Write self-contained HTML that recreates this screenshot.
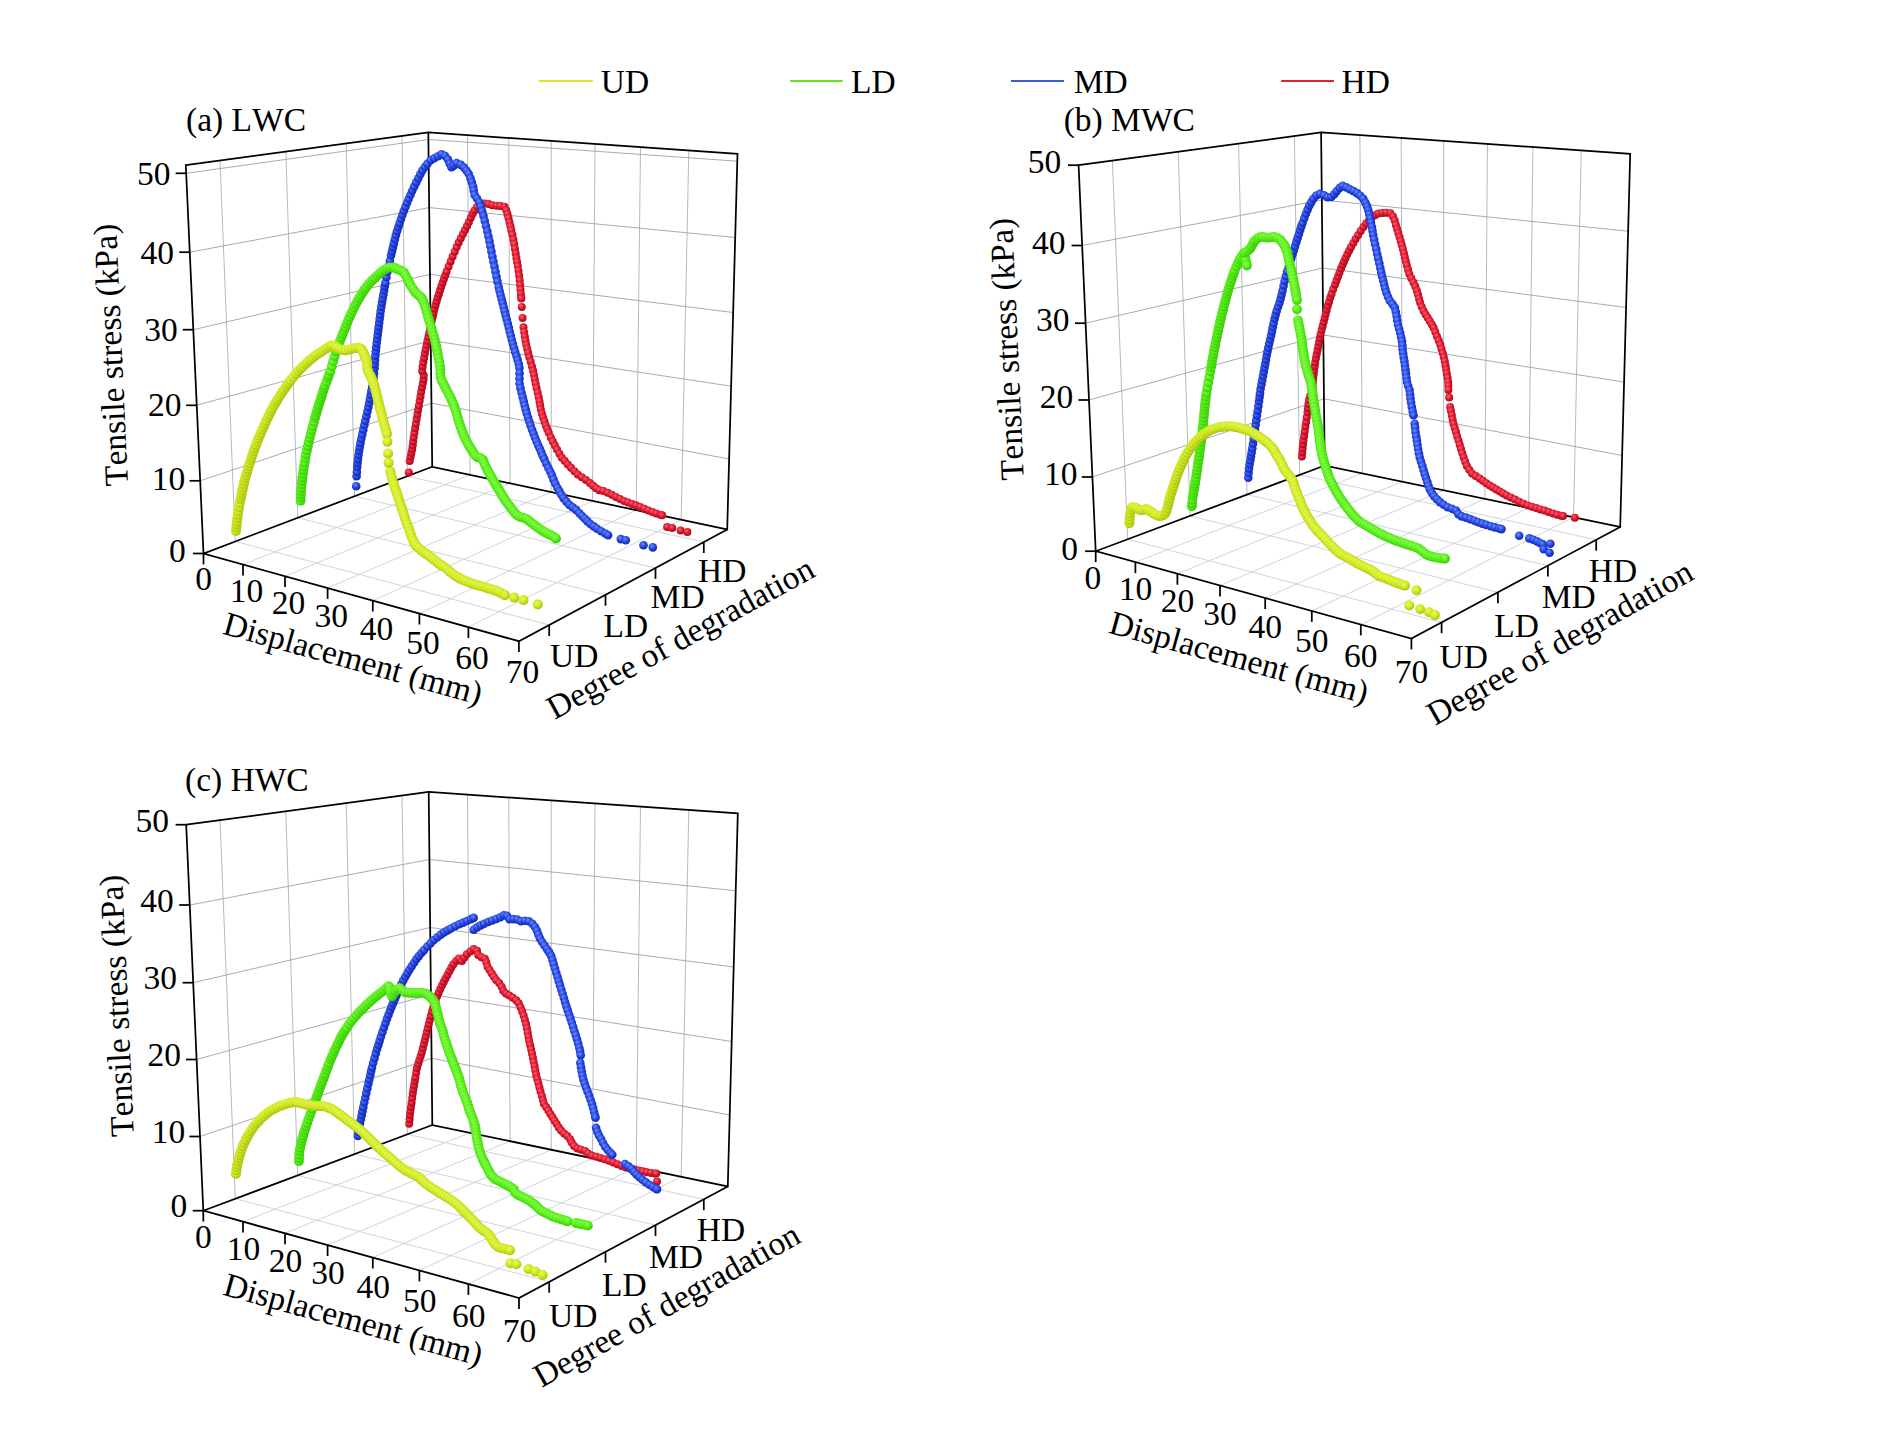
<!DOCTYPE html>
<html lang="en"><head><meta charset="utf-8"><title>Tensile stress vs displacement</title>
<style>html,body{margin:0;padding:0;background:#fff}svg{display:block}text{font-family:"Liberation Serif",serif;font-size:33.5px;fill:#000;font-kerning:none}.k{stroke:#000;stroke-width:1.75;fill:none;stroke-linecap:square;stroke-linejoin:miter}.t{stroke:#000;stroke-width:1.75;fill:none}.g{stroke:#92969b;stroke-width:0.8;fill:none}.gv{stroke:#a2a7ad;stroke-width:0.8;fill:none}.gf{stroke:#c9cfdb;stroke-width:0.9;fill:none}
.cy{fill:none;stroke:#a9c212;stroke-width:7.6;stroke-linecap:round;stroke-linejoin:round;marker-start:url(#my);marker-mid:url(#my);marker-end:url(#my)}
.cg{fill:none;stroke:#3cc80a;stroke-width:7.4;stroke-linecap:round;stroke-linejoin:round;marker-start:url(#mg);marker-mid:url(#mg);marker-end:url(#mg)}
.cb{fill:none;stroke:#1428a8;stroke-width:6.2;stroke-linecap:round;stroke-linejoin:round;marker-start:url(#mb);marker-mid:url(#mb);marker-end:url(#mb)}
.cr{fill:none;stroke:#a00c1e;stroke-width:5.6;stroke-linecap:round;stroke-linejoin:round;marker-start:url(#mr);marker-mid:url(#mr);marker-end:url(#mr)}
</style></head><body>
<svg width="1898" height="1429" viewBox="0 0 1898 1429">
<rect width="1898" height="1429" fill="#fff"/>
<defs>
<radialGradient id="sy" cx="0.4" cy="0.35" r="0.65"><stop offset="0" stop-color="#eafa5c"/><stop offset="0.55" stop-color="#d0e822"/><stop offset="1" stop-color="#a9c212"/></radialGradient>
<marker id="my" markerUnits="userSpaceOnUse" markerWidth="10" markerHeight="10" refX="5" refY="5" overflow="visible"><circle cx="5" cy="5" r="5" fill="url(#sy)"/></marker>
<radialGradient id="sg" cx="0.4" cy="0.35" r="0.65"><stop offset="0" stop-color="#98ff5c"/><stop offset="0.55" stop-color="#55ee16"/><stop offset="1" stop-color="#3cc80a"/></radialGradient>
<marker id="mg" markerUnits="userSpaceOnUse" markerWidth="9.8" markerHeight="9.8" refX="4.9" refY="4.9" overflow="visible"><circle cx="4.9" cy="4.9" r="4.9" fill="url(#sg)"/></marker>
<radialGradient id="sb" cx="0.4" cy="0.35" r="0.65"><stop offset="0" stop-color="#6d8cff"/><stop offset="0.55" stop-color="#2244e2"/><stop offset="1" stop-color="#1428a8"/></radialGradient>
<marker id="mb" markerUnits="userSpaceOnUse" markerWidth="8.6" markerHeight="8.6" refX="4.3" refY="4.3" overflow="visible"><circle cx="4.3" cy="4.3" r="4.3" fill="url(#sb)"/></marker>
<radialGradient id="sr" cx="0.4" cy="0.35" r="0.65"><stop offset="0" stop-color="#ff6070"/><stop offset="0.55" stop-color="#dc162c"/><stop offset="1" stop-color="#a00c1e"/></radialGradient>
<marker id="mr" markerUnits="userSpaceOnUse" markerWidth="8" markerHeight="8" refX="4" refY="4" overflow="visible"><circle cx="4" cy="4" r="4" fill="url(#sr)"/></marker>
</defs>
<line x1="538.8" y1="81" x2="592.8" y2="81" stroke="#dfe52e" stroke-width="2"/>
<text x="600.8" y="93.2">UD</text>
<line x1="790.2" y1="81" x2="842.6" y2="81" stroke="#62e21c" stroke-width="2"/>
<text x="851" y="93.2">LD</text>
<line x1="1011" y1="81" x2="1064" y2="81" stroke="#3a5bd6" stroke-width="2"/>
<text x="1073.8" y="93.2">MD</text>
<line x1="1281.2" y1="81" x2="1334" y2="81" stroke="#e0242e" stroke-width="2"/>
<text x="1341.5" y="93.2">HD</text>
<g transform="translate(0,0)">
<line class="g" x1="200.2" y1="480.8" x2="431.5" y2="403.2"/>
<line class="g" x1="431.5" y1="403.2" x2="729.1" y2="459"/>
<line class="g" x1="196.7" y1="405.3" x2="430.7" y2="340.5"/>
<line class="g" x1="430.7" y1="340.5" x2="731.1" y2="386.2"/>
<line class="g" x1="193.3" y1="329.7" x2="430" y2="274.3"/>
<line class="g" x1="430" y1="274.3" x2="733.1" y2="312.5"/>
<line class="g" x1="189.8" y1="252.2" x2="429.2" y2="207.6"/>
<line class="g" x1="429.2" y1="207.6" x2="735.2" y2="237.5"/>
<line class="g" x1="186.2" y1="173.3" x2="428.4" y2="139.5"/>
<line class="g" x1="428.4" y1="139.5" x2="737.3" y2="161.2"/>
<line class="gv" x1="220" y1="160.5" x2="235.3" y2="541.4"/>
<line class="gf" x1="235.3" y1="541.4" x2="549.2" y2="625"/>
<line class="gv" x1="285.8" y1="151.7" x2="297.7" y2="517.8"/>
<line class="gf" x1="297.7" y1="517.8" x2="605.5" y2="594.8"/>
<line class="gv" x1="346.2" y1="143.5" x2="354.6" y2="496.2"/>
<line class="gf" x1="354.6" y1="496.2" x2="655.5" y2="568"/>
<line class="gv" x1="402" y1="136" x2="407.3" y2="476.2"/>
<line class="gf" x1="407.3" y1="476.2" x2="703.8" y2="542.1"/>
<line class="gv" x1="467.5" y1="135.2" x2="470" y2="474.8"/>
<line class="gf" x1="470" y1="474.8" x2="243" y2="564.5"/>
<line class="gv" x1="508.8" y1="138" x2="510" y2="483.3"/>
<line class="gf" x1="510" y1="483.3" x2="285" y2="576.2"/>
<line class="gv" x1="551.2" y1="140.9" x2="551.2" y2="492.1"/>
<line class="gf" x1="551.2" y1="492.1" x2="327.6" y2="588"/>
<line class="gv" x1="595" y1="144" x2="592.5" y2="500.9"/>
<line class="gf" x1="592.5" y1="500.9" x2="372.8" y2="600.6"/>
<line class="gv" x1="640.5" y1="147.1" x2="636.2" y2="510.2"/>
<line class="gf" x1="636.2" y1="510.2" x2="419.4" y2="613.6"/>
<line class="gv" x1="688.8" y1="150.4" x2="681.2" y2="519.7"/>
<line class="gf" x1="681.2" y1="519.7" x2="468.4" y2="627.2"/>
<path class="k" d="M185.8 165.1L428.3 132.5L737.5 153.8L727.2 529.5L518.9 641.2L203.5 553.5L203.5 553.5L185.8 165.1ZM428.3 132.5L432.2 466.8M203.5 553.5L432.2 466.8M432.2 466.8L727.2 529.5"/>
<line class="t" x1="192.9" y1="553.5" x2="203.5" y2="553.5"/>
<text x="185.7" y="562.3" text-anchor="end">0</text>
<line class="t" x1="189.6" y1="480.8" x2="200.2" y2="480.8"/>
<text x="185.2" y="490" text-anchor="end">10</text>
<line class="t" x1="186.1" y1="405.3" x2="196.7" y2="405.3"/>
<text x="181.5" y="416" text-anchor="end">20</text>
<line class="t" x1="182.7" y1="329.7" x2="193.3" y2="329.7"/>
<text x="177.7" y="341.1" text-anchor="end">30</text>
<line class="t" x1="179.2" y1="252.2" x2="189.8" y2="252.2"/>
<text x="173.9" y="263.8" text-anchor="end">40</text>
<line class="t" x1="175.6" y1="173.3" x2="186.2" y2="173.3"/>
<text x="170.5" y="185.1" text-anchor="end">50</text>
<line class="t" x1="203.5" y1="553.5" x2="203.5" y2="564.4"/>
<text x="203.5" y="589.7" text-anchor="middle">0</text>
<line class="t" x1="243" y1="564.5" x2="243" y2="575.4"/>
<text x="246.6" y="601.5" text-anchor="middle">10</text>
<line class="t" x1="285" y1="576.2" x2="285" y2="587.1"/>
<text x="288.6" y="614.1" text-anchor="middle">20</text>
<line class="t" x1="327.6" y1="588" x2="327.6" y2="598.9"/>
<text x="331.2" y="626.8" text-anchor="middle">30</text>
<line class="t" x1="372.8" y1="600.6" x2="372.8" y2="611.5"/>
<text x="376.4" y="640.2" text-anchor="middle">40</text>
<line class="t" x1="419.4" y1="613.6" x2="419.4" y2="624.5"/>
<text x="423" y="654" text-anchor="middle">50</text>
<line class="t" x1="468.4" y1="627.2" x2="468.4" y2="638.1"/>
<text x="472" y="668.5" text-anchor="middle">60</text>
<line class="t" x1="518.9" y1="641.2" x2="518.9" y2="652.1"/>
<text x="522.5" y="683.4" text-anchor="middle">70</text>
<line class="t" x1="549.2" y1="625" x2="549.2" y2="635.9"/>
<text x="550" y="667.3">UD</text>
<line class="t" x1="605.5" y1="594.8" x2="605.5" y2="605.7"/>
<text x="603.6" y="636.8">LD</text>
<line class="t" x1="655.5" y1="568" x2="655.5" y2="578.9"/>
<text x="650.6" y="608.3">MD</text>
<line class="t" x1="703.8" y1="542.1" x2="703.8" y2="553"/>
<text x="698" y="582.2">HD</text>
</g>
<text x="186" y="130.7">(a) LWC</text>
<text transform="translate(122,354.5) rotate(-92.6)" text-anchor="middle">Tensile stress (kPa)</text>
<text transform="translate(221.5,633.5) rotate(15.5)">Displacement (mm)</text>
<text transform="translate(554.5,720) rotate(-28.8)">Degree of degradation</text>
<g transform="translate(892.4,0)">
<line class="g" x1="200" y1="477" x2="431.6" y2="398.8"/>
<line class="g" x1="431.6" y1="398.8" x2="729.7" y2="455.5"/>
<line class="g" x1="196.6" y1="400" x2="430.9" y2="335"/>
<line class="g" x1="430.9" y1="335" x2="731.7" y2="382"/>
<line class="g" x1="193.2" y1="323.2" x2="430.2" y2="268"/>
<line class="g" x1="430.2" y1="268" x2="733.7" y2="307.5"/>
<line class="g" x1="189.8" y1="245.5" x2="429.4" y2="200"/>
<line class="g" x1="429.4" y1="200" x2="735.7" y2="231.2"/>
<line class="gv" x1="220" y1="160.6" x2="235.3" y2="539.2"/>
<line class="gf" x1="235.3" y1="539.2" x2="549.2" y2="622.3"/>
<line class="gv" x1="285.8" y1="151.8" x2="297.7" y2="515.9"/>
<line class="gf" x1="297.7" y1="515.9" x2="605.5" y2="592.3"/>
<line class="gv" x1="346.2" y1="143.6" x2="354.6" y2="494.6"/>
<line class="gf" x1="354.6" y1="494.6" x2="655.5" y2="565.6"/>
<line class="gv" x1="402" y1="136.1" x2="407.3" y2="474.9"/>
<line class="gf" x1="407.3" y1="474.9" x2="703.8" y2="539.8"/>
<line class="gv" x1="467.5" y1="135.2" x2="470" y2="473.3"/>
<line class="gf" x1="470" y1="473.3" x2="243" y2="562.2"/>
<line class="gv" x1="508.8" y1="138" x2="510" y2="481.7"/>
<line class="gf" x1="510" y1="481.7" x2="285" y2="573.8"/>
<line class="gv" x1="551.2" y1="140.9" x2="551.2" y2="490.3"/>
<line class="gf" x1="551.2" y1="490.3" x2="327.6" y2="585.6"/>
<line class="gv" x1="595" y1="143.9" x2="592.5" y2="498.8"/>
<line class="gf" x1="592.5" y1="498.8" x2="372.8" y2="598.1"/>
<line class="gv" x1="640.5" y1="147.1" x2="636.2" y2="507.9"/>
<line class="gf" x1="636.2" y1="507.9" x2="419.4" y2="611"/>
<line class="gv" x1="688.8" y1="150.4" x2="681.2" y2="517.3"/>
<line class="gf" x1="681.2" y1="517.3" x2="468.4" y2="624.5"/>
<path class="k" d="M186.2 165.2L428.7 132.5L737.8 153.8L727.8 527L519 638.5L203.3 551.2L203.3 551.2L186.2 165.2ZM428.7 132.5L432.3 465.5M203.3 551.2L432.3 465.5M432.3 465.5L727.8 527"/>
<line class="t" x1="192.7" y1="551.2" x2="203.3" y2="551.2"/>
<text x="185.5" y="559.5" text-anchor="end">0</text>
<line class="t" x1="189.4" y1="477" x2="200" y2="477"/>
<text x="185" y="484.6" text-anchor="end">10</text>
<line class="t" x1="186" y1="400" x2="196.6" y2="400"/>
<text x="180.9" y="407.9" text-anchor="end">20</text>
<line class="t" x1="182.6" y1="323.2" x2="193.2" y2="323.2"/>
<text x="177" y="331.2" text-anchor="end">30</text>
<line class="t" x1="179.2" y1="245.5" x2="189.8" y2="245.5"/>
<text x="173.1" y="253.5" text-anchor="end">40</text>
<line class="t" x1="175.6" y1="165.2" x2="186.2" y2="165.2"/>
<text x="168.9" y="173.2" text-anchor="end">50</text>
<line class="t" x1="203.3" y1="551.2" x2="203.3" y2="562.1"/>
<text x="200.4" y="588.7" text-anchor="middle">0</text>
<line class="t" x1="243" y1="562.2" x2="243" y2="573.1"/>
<text x="243" y="600.1" text-anchor="middle">10</text>
<line class="t" x1="285" y1="573.8" x2="285" y2="584.7"/>
<text x="285" y="612.3" text-anchor="middle">20</text>
<line class="t" x1="327.6" y1="585.6" x2="327.6" y2="596.5"/>
<text x="327.6" y="624.9" text-anchor="middle">30</text>
<line class="t" x1="372.8" y1="598.1" x2="372.8" y2="609"/>
<text x="372.8" y="638.3" text-anchor="middle">40</text>
<line class="t" x1="419.4" y1="611" x2="419.4" y2="621.9"/>
<text x="419.4" y="652.3" text-anchor="middle">50</text>
<line class="t" x1="468.4" y1="624.5" x2="468.4" y2="635.4"/>
<text x="468.4" y="667.2" text-anchor="middle">60</text>
<line class="t" x1="519" y1="638.5" x2="519" y2="649.4"/>
<text x="519" y="682.6" text-anchor="middle">70</text>
<line class="t" x1="549.2" y1="622.3" x2="549.2" y2="633.2"/>
<text x="547.1" y="667.8">UD</text>
<line class="t" x1="605.5" y1="592.3" x2="605.5" y2="603.2"/>
<text x="601.8" y="636.5">LD</text>
<line class="t" x1="655.5" y1="565.6" x2="655.5" y2="576.5"/>
<text x="649.3" y="608.3">MD</text>
<line class="t" x1="703.8" y1="539.8" x2="703.8" y2="550.7"/>
<text x="696.4" y="582.4">HD</text>
</g>
<text x="1063.7" y="130.8">(b) MWC</text>
<text transform="translate(1017.9,348.6) rotate(-92.6)" text-anchor="middle">Tensile stress (kPa)</text>
<text transform="translate(1107.5,632.5) rotate(15.5)">Displacement (mm)</text>
<text transform="translate(1435,726) rotate(-29.5)">Degree of degradation</text>
<g transform="translate(0,659.5)">
<line class="g" x1="200" y1="477" x2="431.6" y2="398.8"/>
<line class="g" x1="431.6" y1="398.8" x2="729.7" y2="455.5"/>
<line class="g" x1="196.6" y1="400" x2="430.9" y2="335"/>
<line class="g" x1="430.9" y1="335" x2="731.7" y2="382"/>
<line class="g" x1="193.2" y1="323.2" x2="430.2" y2="268"/>
<line class="g" x1="430.2" y1="268" x2="733.7" y2="307.5"/>
<line class="g" x1="189.8" y1="245.5" x2="429.4" y2="200"/>
<line class="g" x1="429.4" y1="200" x2="735.7" y2="231.2"/>
<line class="gv" x1="220" y1="160.6" x2="235.3" y2="539.2"/>
<line class="gf" x1="235.3" y1="539.2" x2="549.2" y2="622.3"/>
<line class="gv" x1="285.8" y1="151.8" x2="297.7" y2="515.9"/>
<line class="gf" x1="297.7" y1="515.9" x2="605.5" y2="592.3"/>
<line class="gv" x1="346.2" y1="143.6" x2="354.6" y2="494.6"/>
<line class="gf" x1="354.6" y1="494.6" x2="655.5" y2="565.6"/>
<line class="gv" x1="402" y1="136.1" x2="407.3" y2="474.9"/>
<line class="gf" x1="407.3" y1="474.9" x2="703.8" y2="539.8"/>
<line class="gv" x1="467.5" y1="135.2" x2="470" y2="473.3"/>
<line class="gf" x1="470" y1="473.3" x2="243" y2="562.2"/>
<line class="gv" x1="508.8" y1="138" x2="510" y2="481.7"/>
<line class="gf" x1="510" y1="481.7" x2="285" y2="573.8"/>
<line class="gv" x1="551.2" y1="140.9" x2="551.2" y2="490.3"/>
<line class="gf" x1="551.2" y1="490.3" x2="327.6" y2="585.6"/>
<line class="gv" x1="595" y1="143.9" x2="592.5" y2="498.8"/>
<line class="gf" x1="592.5" y1="498.8" x2="372.8" y2="598.1"/>
<line class="gv" x1="640.5" y1="147.1" x2="636.2" y2="507.9"/>
<line class="gf" x1="636.2" y1="507.9" x2="419.4" y2="611"/>
<line class="gv" x1="688.8" y1="150.4" x2="681.2" y2="517.3"/>
<line class="gf" x1="681.2" y1="517.3" x2="468.4" y2="624.5"/>
<path class="k" d="M186.2 165.2L428.7 132.5L737.8 153.8L727.8 527L519 638.5L203.3 551.2L203.3 551.2L186.2 165.2ZM428.7 132.5L432.3 465.5M203.3 551.2L432.3 465.5M432.3 465.5L727.8 527"/>
<line class="t" x1="192.7" y1="551.2" x2="203.3" y2="551.2"/>
<text x="187.2" y="557.1" text-anchor="end">0</text>
<line class="t" x1="189.4" y1="477" x2="200" y2="477"/>
<text x="185.2" y="483.2" text-anchor="end">10</text>
<line class="t" x1="186" y1="400" x2="196.6" y2="400"/>
<text x="180.9" y="406.5" text-anchor="end">20</text>
<line class="t" x1="182.6" y1="323.2" x2="193.2" y2="323.2"/>
<text x="177" y="329.9" text-anchor="end">30</text>
<line class="t" x1="179.2" y1="245.5" x2="189.8" y2="245.5"/>
<text x="173.7" y="252.4" text-anchor="end">40</text>
<line class="t" x1="175.6" y1="165.2" x2="186.2" y2="165.2"/>
<text x="168.9" y="172.1" text-anchor="end">50</text>
<line class="t" x1="203.3" y1="551.2" x2="203.3" y2="562.1"/>
<text x="203.3" y="588.7" text-anchor="middle">0</text>
<line class="t" x1="243" y1="562.2" x2="243" y2="573.1"/>
<text x="243.4" y="600.1" text-anchor="middle">10</text>
<line class="t" x1="285" y1="573.8" x2="285" y2="584.7"/>
<text x="285.4" y="612.3" text-anchor="middle">20</text>
<line class="t" x1="327.6" y1="585.6" x2="327.6" y2="596.5"/>
<text x="328" y="624.9" text-anchor="middle">30</text>
<line class="t" x1="372.8" y1="598.1" x2="372.8" y2="609"/>
<text x="373.2" y="638.3" text-anchor="middle">40</text>
<line class="t" x1="419.4" y1="611" x2="419.4" y2="621.9"/>
<text x="419.8" y="652.3" text-anchor="middle">50</text>
<line class="t" x1="468.4" y1="624.5" x2="468.4" y2="635.4"/>
<text x="468.8" y="667.2" text-anchor="middle">60</text>
<line class="t" x1="519" y1="638.5" x2="519" y2="649.4"/>
<text x="519.4" y="682.6" text-anchor="middle">70</text>
<line class="t" x1="549.2" y1="622.3" x2="549.2" y2="633.2"/>
<text x="549" y="667.4">UD</text>
<line class="t" x1="605.5" y1="592.3" x2="605.5" y2="603.2"/>
<text x="602" y="636.7">LD</text>
<line class="t" x1="655.5" y1="565.6" x2="655.5" y2="576.5"/>
<text x="649" y="608.5">MD</text>
<line class="t" x1="703.8" y1="539.8" x2="703.8" y2="550.7"/>
<text x="696.7" y="581.8">HD</text>
</g>
<text x="185" y="791">(c) HWC</text>
<text transform="translate(127.9,1005.3) rotate(-92.6)" text-anchor="middle">Tensile stress (kPa)</text>
<text transform="translate(221.7,1294.5) rotate(15.5)">Displacement (mm)</text>
<text transform="translate(541.5,1388) rotate(-29.3)">Degree of degradation</text>
<circle cx="408.8" cy="472.5" r="4" fill="url(#sr)"/>
<polyline class="cr" points="409.7,461 410.6,456.7 411.4,453 412.2,449.2 412.7,445.3 413.2,441.3 413.7,437.2 414.4,432.8 415.1,428.3 415.9,423.7 416.6,419.1 417.4,414.5 418.1,410 418.9,405.4 419.7,400.8 420.5,396.2 421.2,391.7 422,387.4 422.9,383.2 423.6,379.2 423.7,375.3 422.1,371 422.6,366.4 423.3,362.2 424.1,357.9 424.9,353.5 425.7,349.2 426.6,345.1 427.4,341.1 428.3,337 429.2,333 430.1,328.9 431,324.8 431.8,320.8 432.7,316.7 433.6,312.7 434.5,308.7 435.6,304.9 436.6,301.2 437.7,297.6 438.9,293.9 440,290.2 441.3,286.5 442.6,282.7 443.9,279 445.3,275.3 446.6,271.6 448.6,266.5 450.6,261.4 452.6,256.4 454.7,251.7 456.7,247.1 458.7,242.6 460.8,238.2 462.9,234.1 465,230.1 467,226.1 468.9,221.9 470.8,217.7 472.6,213.8 474.5,210.4 477.1,206.8 480.6,204.8 484.7,203.5 488.6,204 492.4,205.2 496.6,205.7 500.4,206.1 504.5,206.8 506.3,210.3 507.5,214.3 508.5,218.1 509.5,222.3 510.5,226.5 511.3,230.2 512.4,234.8 513.4,239.6 514.2,244.1 514.9,248.8 515.7,253.4 516.4,258 517.1,261.9 517.8,266 518.5,270.7 519.1,275.5 519.7,280.3 520.1,285 520.5,289.6 520.9,293.9 521.2,297.8 521.3,298.6"/>
<polyline class="cr" points="523.5,327.3 524.2,332.2 524.8,336.5 525.5,340.7 526.3,344.7 527.2,348.7 528.2,352.8 529.3,357.2 530.7,361.8 532,366.4 533.1,370.8 534,375.1 534.8,379.2 535.6,383.5 536.6,388 537.7,392.7 538.7,397.2 539.5,401.4 540.2,405.5 540.9,409.4 541.9,413.5 543.1,417.5 544.5,421.6 545.8,425.6 547.3,429.2 548.8,432.8 550.8,437.4 552.8,441.5 554.9,445.6 557,449.6 559.4,453.7 561.8,457.7 564.8,461.1 567.8,464.4 571,467.8 574.4,471.2 577.8,474.5 581.8,477.2 585.9,479.9 589.9,483 593.1,485.7 596.1,488.2 599.4,490.2 603.4,491 607.7,492.8 611.8,494.8 615.9,496.9 620,499 624,501 628,502.6 632.1,503.9 636.1,505.3 640.2,507 644.2,508.7 648.3,510.4 652.4,512.1 656.1,513.5 660.4,514.8 662.1,515.3"/>
<circle cx="521.8" cy="307" r="4" fill="url(#sr)"/>
<circle cx="522.6" cy="318" r="4" fill="url(#sr)"/>
<circle cx="667.1" cy="527.1" r="4" fill="url(#sr)"/>
<circle cx="672.2" cy="528.1" r="4" fill="url(#sr)"/>
<circle cx="680.6" cy="530.5" r="4" fill="url(#sr)"/>
<circle cx="687.4" cy="531.9" r="4" fill="url(#sr)"/>
<circle cx="356.2" cy="486.3" r="4.3" fill="url(#sb)"/>
<polyline class="cb" points="356.6,476.2 356.9,471.9 357.2,466.9 357.5,463.1 358,459.1 358.5,455 359.1,450.9 359.8,446.9 360.5,442.9 361.3,438.8 362.3,434.4 363.3,429.9 364.3,425.3 365.3,420.8 366.4,416.2 367.4,411.6 368.4,407.1 369.2,403 369.9,399 370.7,394.9 371.4,390.9 372.2,386.7 373,382.7 373.6,378.1 374,373.4 374.5,368.2 374.8,364.2 375.1,360 375.4,355.6 375.8,351.3 376.2,347.2 376.7,343.1 377.2,339 377.7,335 378.2,330.9 378.7,326.9 379.2,322.8 379.7,318.8 380.2,314.8 380.7,310.7 381.3,306.7 382,302.6 382.7,298.6 383.4,294.5 384.1,290.5 384.7,286.6 385.4,282.9 386.4,277.3 387.4,271.8 388.6,266.2 389.9,260.7 391.1,255.2 392,251.4 393,247.4 393.9,243.4 394.9,239.3 395.9,235.3 397,231.2 398.3,227.1 399.6,223.1 401,219 402.4,215 403.8,210.9 405.4,206.9 407.1,202.8 408.7,198.8 410.5,194.7 412.2,190.7 414.2,186.6 416.2,182.4 418.3,178.2 420.3,174.2 422.3,170.5 424.9,167 427.4,163.9 430.7,160.3 434.2,158.2 438,156.2 441.6,154.3 445.1,156 448,159.6 449.7,163.6 451.4,167.3 453.8,165.6 456.6,163.1 460.8,164.9 464,167.5 466.4,170.5 468.7,173.8 470.5,178.4 471.8,182.1 473.1,186.6 473.7,190.4 474.6,194.9 477,198.5 479.6,202.5 480.9,206.8 482.2,211.4 483.5,216.1 484.8,221 486,226 487.3,231.1 488.4,236.2 489.5,241.3 490.4,246.3 491.4,251.4 492.4,256.5 493.4,261.5 494.5,266.6 495.5,271.6 496.5,276.6 497.5,281.6 498.7,287.1 499.6,291 500.6,295.1 501.7,299.2 502.7,303.3 503.7,307.3 504.7,311.4 505.7,315.5 506.8,319.5 507.8,323.6 508.8,327.6 509.8,331.7 510.8,335.7 511.8,339.7 512.9,343.8 514,347.8 515.2,351.9 516.5,356 517.7,360 518.8,364 519.4,367.8 519.5,373.2 519.5,378.4 519.6,383.5 520.5,388.2 521.6,392.7 522.7,397.2 523.7,401.4 524.7,405.5 525.7,409.4 526.8,413.4 528,417.5 529.3,421.5 530.6,425.6 532.1,429.7 533.6,433.8 535.1,437.8 536.6,441.5 538.1,445.1 539.7,448.6 541.2,452.1 542.7,455.7 544.3,459.2 546.3,463.7 548.4,467.9 550.3,471.8 551.9,475.4 553.5,479.6 555.4,483.8 557.5,488 559.4,491.4 561.4,494.8 563.5,498.1 566.4,501.6 569.4,504.9 572.7,507.4 576.1,509.9 579.4,513.2 582.1,516 584.8,518.7 587.5,521.4 590.4,524 593.7,526.4 597.1,528.7 601.1,531.2 605.4,533.6 608.1,535.2"/>
<circle cx="620.8" cy="539.1" r="4.3" fill="url(#sb)"/>
<circle cx="625.8" cy="540.3" r="4.3" fill="url(#sb)"/>
<circle cx="643.5" cy="545.3" r="4.3" fill="url(#sb)"/>
<circle cx="652.8" cy="547.4" r="4.3" fill="url(#sb)"/>
<polyline class="cg" points="300.6,500.7 300.7,497.4 300.8,494.4 300.9,491.4 301.2,488 301.6,484.4 302,480.8 302.4,477.3 302.9,473.8 303.4,470.2 304,466.5 304.6,462.5 305.3,458.4 306,454.3 306.9,450.2 307.8,446.2 308.7,442.2 309.7,438.1 310.7,434.1 311.7,430 312.8,425.9 313.9,421.9 315,417.9 315.7,415.2 316.5,412.4 317.3,409.7 318.2,407 319,404.3 319.9,401.6 320.7,399 321.5,396.3 322.4,393.6 323.2,390.9 324.1,388.2 325,385.6 326.5,381.8 328,377.8 329,375 330.3,371.2 331.7,366.4 333.1,361.4 334.6,356.4 336,351.5 337.4,347.4 338.7,343.9 340.1,340.5 341.4,337.3 342.7,334 344.1,330.6 345.4,327.2 346.8,323.9 348.1,320.5 349.5,317.2 351,313.9 352.6,310.6 354.2,307.3 355.8,304.1 357.5,301 359.2,298 360.9,295.2 362.7,292.4 364.4,289.8 366.2,287.2 368.5,284.3 370.7,282 372.8,279.8 375.1,277.7 377.4,275.6 379.7,273.5 381.9,271.6 384.5,269.8 386.9,268.3 389.9,267.4 393.3,267.5 396,268.5 398.7,269.6 401.4,271 403.8,272.5 405.5,275.3 407.1,278.3 408.3,280.8 409.6,283.4 411,285.9 413,289 415.1,292 417.4,294.3 419.8,296.2 421.9,298.5 423.2,301.3 424.5,304.5 425.5,307.5 426.5,311.1 427.5,314.7 428.5,318.3 429.6,321.8 430.6,325.4 431.6,328.9 432.6,332.4 433.7,336 434.7,339.5 435.5,343.1 436.3,346.6 437,350.2 437.8,353.9 438.5,357.9 439.3,362 440,366 440.3,369.8 440.4,373.5 440.7,377.2 441.8,380.5 443.3,383.5 444.9,386.5 446.4,389.5 448,392.6 449.5,395.6 451,398.7 452.3,401.7 453.6,404.7 454.8,407.8 455.9,411.1 456.9,414.7 457.9,418.3 458.9,421.6 459.9,424.7 460.9,427.7 461.9,430.7 463.1,433.8 464.4,436.8 465.8,439.8 467.2,442.5 468.7,445.1 470.2,447.6 471.7,450 473.2,452.4 475.3,455.5 477.5,457.3 480.5,457.9 482.9,459.8 484.2,462.9 485.5,466.1 487.2,469.4 488.5,472 489.8,474.5 491.3,477 492.8,479.6 494.3,482.2 495.8,484.7 497.4,487.2 498.9,489.7 500.4,492.2 501.9,494.8 503.4,497.3 504.9,499.8 506.9,502.6 509,505.3 511,508 513,510.7 515,513.3 517.1,515.2 519.9,516.9 523,517.6 526.2,518.8 528.9,520.8 531.6,522.9 534.3,524.9 537,527 539.7,528.9 542.4,530.7 545.1,532.3 547.9,533.8 550.6,535.1 553.3,536.6 555.6,538.4 555.9,538.6"/>
<polyline class="cy" points="236,531 236.3,527.7 236.6,524.7 236.9,521.7 237.3,518.3 237.8,514.7 238.3,511.1 239,507.3 239.7,503.3 240.5,499.2 241.1,496.4 241.7,493.4 242.4,490.4 243,487.4 243.7,484.3 244.4,481.3 245.2,478.3 246.1,475.2 246.9,472.2 247.8,469.1 248.7,466.1 249.7,463.1 250.7,460 251.7,457 252.7,453.9 253.7,450.9 254.8,447.9 256,444.9 257.2,441.8 258.4,438.8 259.6,435.8 260.9,432.8 262.3,429.7 263.6,426.7 265,423.6 266.4,420.6 267.9,417.5 269.4,414.5 270.9,411.4 272.4,408.4 274,405.4 275.7,402.6 277.3,399.9 279,397.2 280.7,394.5 282.4,391.9 284.1,389.5 285.8,387.1 287.4,384.7 289.1,382.4 290.8,380.1 293.3,377 295.9,373.9 298.4,371 300.6,368.7 302.6,366.7 305.3,364.2 307.6,362.1 310.1,359.9 312.7,357.7 315.3,355.7 317.9,353.9 320.6,352.2 323.2,350.5 325.9,348.7 328.6,346.9 331.3,345.4 334.2,345.8 336.9,347.6 339.5,349 342.4,350 345.6,350.4 349,349.6 352.4,348.7 355.4,348.1 358.3,347.8 361.1,348.7 362.8,351.5 364.1,354.3 365.2,357 366.3,359.9 367.2,362.7 367.3,365.7 367.3,368.5 368.2,371.6 370,375 371.3,377.5 372.4,380.4 373.5,383.4 374.5,386.5 375.4,389.5 376.1,392.6 376.9,395.6 377.6,398.7 378.4,401.7 379.2,404.8 379.9,407.8 380.7,410.8 381.5,413.9 382.2,416.9 383,419.8 384,423.2 385,426.5 385.8,429.5 386.5,432.3 386.9,434.1"/>
<polyline class="cy" points="390.3,471.2 391.2,474.9 392,478.1 392.8,481.3 393.8,484.3 394.8,487.4 395.9,490.4 396.9,493.4 397.9,496.4 398.9,499.5 399.9,502.5 400.9,505.6 401.9,508.6 402.9,511.6 403.9,515.1 405,518.4 406.1,521.8 407.5,525.1 408.8,528.5 409.8,531.5 410.8,534.6 411.9,537.7 413.2,540.7 414.5,543.4 416.2,545.9 418.8,548.3 421.6,550.6 423.9,552.4 426.4,554.1 429,555.9 431.6,557.8 434.1,559.9 436.7,561.9 439.2,563.9 441.9,565.6 444.6,567.2 447.2,569.2 449.9,571.6 452.7,574 455.1,575.6 457.6,577.1 460.2,578.6 463.1,580 466.1,581.3 469.2,582.5 472.1,583.6 475.4,584.6 478.8,585.6 482.1,586.5 485.6,587.5 488.9,588.6 492.3,589.5 495.7,590.6 498.2,591.7 501,593.1 503.5,594.4 504.9,595.1"/>
<circle cx="387.4" cy="441.7" r="5" fill="url(#sy)"/>
<circle cx="388.1" cy="453.5" r="5" fill="url(#sy)"/>
<circle cx="388.6" cy="462.7" r="5" fill="url(#sy)"/>
<circle cx="514.2" cy="597.6" r="5" fill="url(#sy)"/>
<circle cx="523.5" cy="600.1" r="5" fill="url(#sy)"/>
<circle cx="537.8" cy="604.4" r="5" fill="url(#sy)"/>
<polyline class="cr" points="1301.9,456.6 1302.3,452.3 1302.6,448.3 1303,444.3 1303.5,440.3 1304.1,436.1 1304.7,431.4 1305.4,426.6 1306.1,421.9 1306.8,417.2 1307.5,412.3 1307.9,408.2 1308.4,404 1308.9,400.1 1310.2,396.1 1311.6,392.2 1312.5,387.4 1312.9,383.1 1313.2,378.8 1313.7,374.5 1314.1,370.5 1314.7,366.4 1315.2,362.4 1315.9,358.3 1316.7,354.3 1317.5,350.2 1318.3,346.2 1319,342.2 1319.8,338.2 1320.6,334.2 1321.6,330.1 1322.7,326.1 1323.7,322 1324.7,317.9 1325.7,313.9 1326.7,309.9 1327.8,305.8 1329.1,301.7 1330.3,297.6 1331.6,293.8 1333.3,289.1 1335.1,284.4 1336.5,280.5 1338,276.4 1339.5,272.4 1341,268.5 1342.5,264.9 1344,261.4 1345.6,257.9 1347.3,254.3 1349.1,250.8 1350.9,247.2 1353.3,243 1355.6,239 1358.1,235 1360.7,230.9 1363.4,226.9 1366.1,223.5 1368.9,220.4 1371.6,217.8 1374.9,215.3 1378.3,213.5 1382.4,212.9 1386.2,212.7 1390.3,213.2 1393,216.4 1394.7,220.6 1395.9,225 1397.1,228.9 1398.3,232.9 1399.5,237 1400.7,241.1 1401.8,245.1 1402.9,249.1 1403.9,253.2 1404.8,257.2 1405.8,261.3 1406.8,265.3 1408.1,269.8 1409.3,274 1411.3,278.2 1413.5,282.4 1415.3,286.5 1416.9,290.7 1418,294.6 1419,298.7 1420.1,302.6 1421.7,306.8 1423.6,311 1425.6,314.4 1427.7,317.8 1429.7,321.1 1431.8,324.5 1433.6,327.8 1435.3,332.1 1436.9,336.3 1438.7,340.5 1440.3,344.7 1441.5,348.9 1442.8,353.3 1443.8,357.3 1444.8,361.4 1445.5,365.5 1446.2,369.6 1446.8,373.5 1447.6,377.7 1448.2,381.9 1448.3,385.8 1448.4,390"/>
<polyline class="cr" points="1450.1,406.9 1450.9,410.8 1451.8,415.3 1452.6,419.5 1453.5,423.7 1454.7,427.9 1456,432.1 1457.2,436.4 1458.5,440.6 1459.7,444.8 1461,449 1462.3,453.2 1463.6,457.4 1465.2,461.7 1466.9,465.9 1469.3,469.8 1472,473.5 1475.7,476.1 1479.6,478.5 1482.9,480.8 1486.3,483.2 1489.7,485.4 1493,487.5 1496.4,489.5 1499.8,491.5 1503.2,493.5 1506.6,495.4 1510.8,497.4 1515,499.6 1519.2,501.7 1523.4,503.7 1527.7,505.4 1531.9,506.8 1536.1,508.1 1540.3,509.4 1544.5,510.6 1548.7,512 1553,513.5 1557.1,514.8 1561,515.7 1563,516.1"/>
<circle cx="1449.2" cy="397.6" r="4" fill="url(#sr)"/>
<circle cx="1574.8" cy="517.8" r="4" fill="url(#sr)"/>
<polyline class="cb" points="1248.3,477.7 1248.6,473 1249,468.6 1249.6,464.5 1250.3,460.5 1251,456.4 1251.7,452.4 1252.3,448.3 1253,443.8 1253.7,439.1 1254.4,434.3 1255,429.6 1255.6,424.9 1256.3,420.2 1257,415.4 1257.7,410.7 1258.4,405.9 1259,401.2 1259.6,397.1 1260,393.2 1260.6,388.8 1261.4,384.6 1262.2,380.2 1263,375.9 1263.8,371.8 1264.5,367.8 1265.3,363.7 1266,359.7 1266.7,355.6 1267.5,351.6 1268.3,347.6 1269.2,343.5 1270.2,339.5 1271.1,335.5 1272,331.4 1272.8,327.3 1273.6,323.3 1274.6,318.8 1275.6,314.9 1276.7,310.9 1278.1,306.8 1279.5,302.7 1280.6,298.7 1281.6,294.7 1282.6,290.5 1283.6,285.8 1284.6,281 1285.9,276.3 1287.2,271.6 1288.7,266.7 1290,262.7 1291.2,258.6 1292.5,254.5 1293.8,250.4 1295,246.4 1296.3,242.3 1297.5,238.3 1298.8,234.2 1300.1,230.2 1301.3,226.4 1302.6,222.8 1304.3,218.1 1305.9,213.7 1307.6,209.6 1309.3,205.6 1311.3,202.1 1313.4,198.7 1316.4,195.5 1319.9,193.9 1324,195.3 1327.6,197.3 1331.3,197 1334.2,194.2 1336.7,191.1 1339.7,187.9 1342.7,185.8 1346.3,187.4 1349.8,189.2 1353.5,191.1 1357,193.1 1360.3,195.7 1363.3,198.9 1365.5,202.9 1367.1,206.4 1368.3,210.3 1369.3,214.4 1370.2,218.3 1371,222.5 1371.9,226.9 1372.5,230.8 1373.2,235 1374.1,239.5 1375.1,244.2 1376.2,249 1377.2,253.7 1378.2,258.4 1379.3,263.2 1380.3,267.9 1381.2,272.4 1382.2,276.5 1383.2,280.5 1384.2,284.6 1385.2,288.6 1386.3,292.5 1388,296.8 1389.9,300.8 1392.5,304.1 1394.8,307.6 1395.8,311.8 1396.6,316 1397.2,320.2 1398,324.7 1399.1,328.8 1400.2,332.8 1401.1,337.2 1402,341.3 1402.4,345.2 1402.6,349.2 1403.1,353.3 1403.7,357.3 1404.4,361.4 1405,365.5 1405.5,369.5 1406,373.6 1406.5,377.7 1407,381.7 1408.1,385.7 1409.6,390 1410.1,394.2 1410.5,398.4 1411.1,402.6 1411.8,406.9 1412.7,411.4 1413.5,415.3"/>
<polyline class="cb" points="1414.7,423.7 1415.1,427.6 1415.5,432.1 1416.2,436.4 1416.9,440.6 1417.5,444.8 1418.1,449 1418.9,453.2 1419.7,457.4 1421,461.6 1422.3,465.9 1423.6,470.1 1424.8,474.3 1426,478.1 1427.3,481.9 1428.5,485.7 1429.9,489.5 1431.9,492.9 1434.1,496.2 1436.9,499.2 1440,502.1 1443.7,504.7 1447.6,507.2 1451.9,508.8 1456,510.5 1458.3,514.1 1461.7,516.4 1466.1,517.6 1470.3,519.1 1474.5,520.8 1478.2,522.2 1482.3,523.6 1486.3,524.9 1490.7,526.2 1494.8,527.4 1499.1,528.5 1501.5,529.1"/>
<polyline class="cb" points="1529.3,538.4 1533.3,539.7 1537,541.4 1540.5,543.2 1542.8,544.3"/>
<circle cx="1519.2" cy="535.8" r="4.3" fill="url(#sb)"/>
<circle cx="1550.4" cy="543.8" r="4.3" fill="url(#sb)"/>
<circle cx="1543.7" cy="549.3" r="4.3" fill="url(#sb)"/>
<circle cx="1549.6" cy="552.7" r="4.3" fill="url(#sb)"/>
<polyline class="cg" points="1191.8,506.3 1192.1,503.3 1192.4,499.7 1192.9,495.9 1193.4,492.9 1194,489.8 1194.5,486.8 1195,483.8 1195.5,480.8 1196,477.7 1196.5,474.2 1197,470.7 1197.5,467.1 1198,463.5 1198.6,460 1199.1,456.5 1199.6,452.9 1200,449.4 1200.5,445.8 1201,442.3 1201.4,438.8 1201.9,435.2 1202.3,431.7 1202.6,428.1 1203,424.6 1203.4,421.1 1203.7,417.5 1204.1,414 1204.4,410.4 1204.8,406.9 1205.1,403.6 1205.5,400.3 1205.9,396.6 1206.5,392.8 1207.4,387.7 1208.3,382.3 1209.3,376.9 1210.3,371.6 1211,367.3 1211.7,363.8 1212.2,360.5 1212.8,357.2 1213.4,354 1214,350.6 1214.7,347.3 1215.4,343.9 1216.1,340.5 1216.8,337.2 1217.5,333.8 1218.2,330.4 1218.9,327.1 1219.7,323.7 1220.4,320.3 1221.2,316.9 1222,313.5 1222.9,310.1 1223.7,306.7 1224.6,303.4 1225.4,300.2 1226.2,297.1 1227.1,294.1 1227.9,291.1 1228.8,288.1 1229.7,285.1 1230.7,282 1231.7,278.9 1232.8,275.8 1233.8,272.9 1234.8,270.1 1236.3,266.4 1237.9,262.9 1239.4,259.6 1241,257.3 1243.1,254.5 1244.4,252.8"/>
<polyline class="cg" points="1245.3,257.9 1245.9,260.8 1246.6,264.2 1246.9,265.5"/>
<polyline class="cg" points="1244.4,252.8 1247.3,251.1 1250,248.7 1251.5,246.2 1253,243.5 1254.5,241 1256.8,239 1259.2,237.4 1261.9,236.8 1264.9,237.3 1268,237.7 1270.8,237.3 1274.1,236.8 1277.2,237.9 1280.1,239.8 1282,241.9 1283.7,244.3 1285.2,246.7 1286.2,249.4 1287.2,252.1 1287.9,255.3 1288.6,258.7 1289.3,262.1 1290.2,265.5 1291.1,268.9 1291.8,272.2 1292.5,275.6 1293.2,279 1293.9,282.4 1294.5,285.8 1295.1,288.9 1295.6,292 1296.1,294.8 1296.6,298 1297,300.1"/>
<polyline class="cg" points="1298,320.3 1298.6,323.4 1299.1,326.3 1299.8,329.7 1300.5,333.1 1301.1,336.5 1301.6,339.8 1302.1,343.2 1302.5,346.6 1302.9,349.5 1303.4,352.5 1303.9,355.6 1304.4,358.6 1305,361.7 1305.6,364.5 1306.4,367.8 1307.4,371.2 1308.4,374.6 1309.2,377.2 1310.1,379.9 1311,382.7 1311.5,386.2 1312,389.8 1312.5,392.8 1313,396.3 1313.5,399.9 1314,403.5 1314.6,407 1315.2,410.6 1315.8,414.1 1316.4,417.7 1317.1,421.3 1317.8,424.8 1318.3,428.1 1318.7,431.2 1319.1,434.2 1319.4,437.2 1319.8,440.2 1320.1,443.3 1320.6,446.3 1321.1,449.3 1321.7,452.3 1322.3,455.4 1323.1,458.4 1324,461.5 1324.9,464.5 1325.8,467.6 1326.8,470.6 1327.8,473.7 1328.8,476.7 1330.1,479.7 1331.6,482.8 1333.2,485.8 1334.8,488.8 1336.5,491.9 1338.3,494.9 1340.1,497.9 1341.9,500.5 1343.6,503 1345.4,505.5 1347.3,508 1349.4,510.6 1351.4,513.2 1353.5,515.5 1355.4,517.6 1357.4,519.6 1359.5,521.5 1362,523.1 1364.6,524.6 1367.1,526.1 1369.7,527.6 1372.2,529.1 1374.7,530.6 1377.4,532.1 1380.4,533.7 1383.4,535.2 1386.5,536.7 1389.5,538 1392.6,539.3 1395.6,540.5 1398.6,541.6 1401.6,542.6 1404.6,543.6 1407.9,544.7 1411.4,545.9 1415,547.1 1418.5,548.5 1421.2,550.5 1423.8,552.6 1426.4,554.6 1429.3,555.9 1432.4,556.7 1435.4,557.4 1438.2,557.9 1441.5,558.3 1444.4,558.5 1445,558.6"/>
<circle cx="1297" cy="309.3" r="4.9" fill="url(#sg)"/>
<polyline class="cy" points="1129.4,523.2 1129.5,520.1 1129.7,516.5 1130.2,513.2 1131,509.9 1131.9,507.2 1134.8,507.6 1137.6,508.8 1140.2,510.1 1142.9,509.9 1145.9,509.1 1148.4,510.3 1151,511.7 1153.5,513.5 1156,515 1159.1,516.1 1162.1,515.7 1164.7,514 1166.2,511.6 1167.2,508.2 1168.2,504.6 1168.9,501.6 1169.7,498.6 1170.4,495.5 1171.4,492.5 1172.4,489.4 1173.4,486.4 1174.4,483.4 1175.4,480.4 1176.4,477.3 1177.4,474.3 1178.6,471.3 1179.9,468.2 1181.3,465.2 1182.7,462.2 1184.1,459.1 1185.6,456.1 1187.3,453.1 1189.3,450 1191.4,446.9 1193.5,444 1195.7,441.6 1197.9,439.3 1200.2,437.1 1202.7,435.1 1205.2,433.3 1207.7,431.6 1210.5,430.1 1213.5,429 1216.5,428 1219.6,427.1 1222.6,426.7 1225.7,426.4 1228.7,426.2 1231.7,426.4 1234.8,426.9 1237.8,427.5 1240.8,428.2 1243.9,429.2 1246.9,430.2 1249.9,431.3 1252.5,432.8 1255,434.3 1257.6,435.9 1260.1,437.6 1262.7,439.3 1265.2,441.1 1267.4,442.9 1269.9,445.2 1272.2,447.6 1273.8,450 1275.4,452.9 1276.9,455.4 1278.6,458.1 1280.3,460.8 1281.7,463.8 1283,466.9 1284.7,469.8 1286.7,472.5 1288.7,475.1 1290.4,477.4 1292.1,479.7 1293.5,482.6 1294.5,486 1295.5,489.5 1296.8,492.9 1298.1,496.2 1299.5,499.6 1300.8,502.9 1302.2,506.3 1303.4,508.8 1304.7,511.4 1306,514 1307.4,516.5 1308.9,519.1 1310.5,521.6 1312.5,524.6 1314.4,527.3 1316.5,529.9 1318.5,531.9 1320.6,534 1322.6,536 1325.1,538.7 1327.4,541.4 1329.8,544 1332.2,546.4 1334.5,548.7 1336.8,550.9 1339.1,552.9 1341.8,554.8 1345.1,556.5 1347.7,557.7 1350.2,559.1 1352.8,560.6 1355.3,562.2 1357.8,563.7 1360.4,565 1363,566.3 1365.5,567.5 1368.4,568.9 1371.1,570.2 1373.5,571.6 1376,573.8 1378.9,575.9 1382.2,577.2 1385.7,578.5 1389,579.8 1392.3,581.2 1395.9,582.5 1399.1,583.6 1402.3,584.7 1405,585.6"/>
<circle cx="1416.5" cy="590.3" r="5" fill="url(#sy)"/>
<circle cx="1409.3" cy="605.5" r="5" fill="url(#sy)"/>
<circle cx="1420.2" cy="609.2" r="5" fill="url(#sy)"/>
<circle cx="1429" cy="612.2" r="5" fill="url(#sy)"/>
<circle cx="1434.9" cy="615.1" r="5" fill="url(#sy)"/>
<polyline class="cr" points="409.2,1123.7 409.6,1119.2 409.9,1115 410.4,1111 411,1106.9 411.6,1102.7 412.2,1098 412.8,1093.2 413.4,1089.3 414.1,1085.2 414.8,1081.2 415.4,1077.3 416.2,1072.6 417,1067.9 418.1,1064.1 419.3,1060.3 420.6,1056.3 421.8,1052.4 422.8,1048.3 423.8,1044.3 424.8,1040.2 425.8,1036.2 426.8,1032.1 427.8,1028 428.8,1024 429.8,1020 430.8,1015.9 431.9,1011.8 433.1,1007.8 434.4,1003.7 435.7,999.7 437.2,996.1 438.7,992.6 440.3,989.1 441.9,985.5 443.7,982 445.5,978.5 447.4,974.9 449.4,971.2 451.4,967.6 453.4,964.3 456.1,960.9 458.9,958.5 461.9,960.9 464.3,957.8 466.9,954.2 470.4,951.4 473.7,949.1 477,950.8 478.2,954.9 481.4,957.2 484.9,958.8 486.4,962.5 487.5,966.7 489.6,970 491.8,973.4 493.9,976.8 496.1,980 499.1,982.9 501.6,986.7 503.2,990.7 505.9,993.5 509.3,995.5 512.8,997.8 516.2,1000.3 518.7,1003.3 520.6,1007.4 522.2,1011.4 523.7,1015.7 524.9,1019.9 526.1,1024.1 526.9,1028.3 527.7,1032.5 528.4,1036.8 529.2,1041 530.2,1045.2 531.2,1049.4 532,1053.6 532.9,1057.8 533.7,1062.1 534.6,1066.3 535.3,1070.5 536.2,1074.7 537.2,1078.9 538.3,1083.1 539.4,1087.3 540.5,1091.6 541.9,1096 542.9,1100 543.9,1103.7 546.1,1107.1 548.3,1110.6 550.4,1114 552.5,1117.3 554.6,1120.7 556.7,1124.1 558.8,1127.5 561.1,1130.6 564.1,1133.6 567.3,1136.1 570.1,1139.2 571.7,1142.6 574.1,1146 577.3,1148.5 581.1,1149.7 585,1150.9 588,1153.5 592,1155.6 596.3,1156.8 600.5,1158 604.7,1159.3 608.9,1160.8 613.2,1162.5 617.4,1164.2 621.6,1165.9 625.8,1167.4 630,1168.6 634.2,1169.6 638.5,1170.5 642.7,1171.3 646.9,1172.2 651,1172.9 654.9,1173.4 656.2,1173.6"/>
<circle cx="657" cy="1181.4" r="4" fill="url(#sr)"/>
<polyline class="cb" points="357.9,1135.9 358.4,1132 359.1,1127.4 359.9,1123.4 360.9,1119.3 361.7,1115.3 362.5,1111.3 363.3,1107.2 364.3,1102.5 365.3,1097.8 366.3,1093.1 367.3,1088.4 368.4,1083.6 369.3,1079.5 370.3,1075.2 371.1,1071.3 372,1067.5 373.2,1062.8 374.5,1058.2 375.8,1053.4 377.1,1048.9 378.4,1044.9 379.6,1040.9 380.9,1036.8 382.4,1032.3 383.9,1027.7 385.5,1023.1 387,1018.8 388.5,1014.7 390,1010.7 391.5,1006.9 393,1003.4 394.5,999.9 396.1,996.3 397.8,992.3 399.6,988.2 401.4,984.1 403.3,980.4 405.3,976.8 407.3,973.3 409.4,969.8 411.7,966.2 414,962.7 416.3,959.2 418.8,956.1 421.4,953 424,950.1 427.3,946.5 430.7,943.1 434,940 437.4,937.2 440.8,934.6 444.1,932.4 447.6,930.4 450.9,928.5 455.2,926.3 459.3,924.3 463.1,922.6 466.9,921 470.9,919.1 473.7,917.9"/>
<polyline class="cb" points="473.7,929.7 477.1,927.4 480.7,925.4 484.1,923.7 488.2,922 492.2,920.5 496.2,919 500.3,917.2 503.8,915.3 507,915.9 509.5,919.2 513.4,919.1 517.3,919.5 520.9,921.3 524.9,920.7 528.8,921.2 532.4,923.8 535,927 536.9,930.6 538.4,934.6 540,938.5 542.1,942 544.5,945.5 547,949.1 549.2,952.4 551.2,955.9 552.5,960 553.7,964.3 555,968.5 556.3,972.7 557.6,977 558.8,981.2 560,985.4 561.3,989.6 562.6,993.8 563.9,998 565.1,1002.1 566.4,1006.4 567.7,1010.4 569.1,1014.5 570.5,1018.6 571.8,1022.7 573.1,1026.7 574.4,1031 575.7,1035.1 577,1039.3 578.2,1043.5 579.3,1047.7 580.1,1051.4 580.7,1055.3"/>
<polyline class="cb" points="580.3,1062.9 581,1067.2 581.7,1071.3 582.5,1075.6 583.4,1079.6 584.7,1083.6 586.1,1087.6 587.6,1091.7 589.2,1095.8 590.6,1099.8 592,1103.9 593.1,1107.9 594.1,1112 595.1,1115.9 595.5,1117.7"/>
<polyline class="cb" points="596,1127.8 597.3,1131.8 599,1135.5 601.1,1139 603.1,1143 605.2,1146.8 607.8,1150 610.4,1152.9 612.3,1154.8"/>
<polyline class="cb" points="625,1164 628.4,1166.4 631.4,1168.9 634,1171.8 636.6,1174.7 639.5,1177.2 642.5,1179.7 645.8,1182.3 649.4,1184.8 653,1187 656.3,1188.9 657,1189.3"/>
<polyline class="cg" points="298.9,1161.2 299,1158.1 299.1,1154.5 299.5,1151 300.2,1147.7 300.9,1144.3 301.6,1141.3 302.4,1138.3 303.2,1135.2 304.1,1132.2 305.1,1129.2 306.1,1126.2 307.2,1123 308.4,1119.4 309.7,1115.9 311,1112.3 312.3,1108.8 313.6,1105.3 314.9,1101.7 316.3,1097.9 317.3,1095.2 318.3,1092.4 319.3,1089.7 320.3,1087 321.3,1084.3 322.4,1081.5 323.4,1078.8 324.4,1076.1 325.4,1073.5 326.6,1070 327.8,1066.7 329.1,1063.3 330.6,1059.5 331.8,1056.8 333,1054.1 334.2,1051.3 335.4,1048.6 336.7,1045.9 338,1043.2 339.4,1040.4 340.7,1037.7 342.1,1035.1 343.6,1032.7 345.1,1030.3 346.6,1027.9 348.9,1024.4 351.4,1021.2 353.9,1018.1 356.5,1015.2 359,1012.3 361.6,1009.8 364.1,1007.3 366.6,1004.8 369.1,1002.5 371.7,1000.2 374.2,997.9 376.6,996 378.9,994.1 381.2,992.4 383.7,990.4 386.3,988.2 388.5,986.1 389.7,987.5 390.1,990.7 390.8,993.6 391.9,996.3 393.5,993.5 395.3,991.2 397.4,989.3 400,988.2 402.4,990.3 405.1,992.3 408.5,992.8 412,993 415.3,993 418.7,993 422.1,992.8 425.4,993.3 427.8,994.9 430.1,996.7 432.1,998.9 433.8,1001.3 435.1,1003.8 436,1007.1 436.8,1010.5 437.5,1013.2 438.1,1015.9 438.9,1019.3 439.7,1022.6 440.7,1025.3 441.7,1028.1 442.7,1030.8 443.5,1034.1 444.4,1037.5 445.4,1040.6 446.4,1043.6 447.4,1046.7 448.4,1049.8 449.4,1052.7 450.4,1055.4 451.4,1058 452.5,1060.7 453.5,1063.5 454.6,1066.2 455.6,1068.9 456.6,1071.5 457.6,1074.2 458.6,1076.9 459.5,1079.6 460.3,1082.9 461,1085.7 462,1088.8 463,1092.1 464.3,1095.4 465.7,1098.7 467,1102.1 468,1105.5 469,1108.9 470.2,1112.3 471.6,1115.6 472.9,1119 474,1122.4 475,1125.8 475.6,1128.8 476,1132.1 476.4,1135 476.9,1138.4 477.5,1141.8 478.2,1145.1 478.9,1148.5 479.9,1151.8 481.2,1155.2 482.6,1158.7 483.8,1161.2 485.1,1163.7 486.4,1166.3 488,1169.4 489.5,1172.3 491,1175 493,1177.2 495.2,1179.2 497.8,1180.6 500.5,1181.9 503.3,1183.3 506,1184.6 508.7,1186 511.4,1187.6 513.7,1189.3 514.8,1192.3 517.2,1194.5 520,1195.9 522.8,1197.2 525.5,1198.6 528.2,1199.9 530.9,1201.7 533.7,1203.8 536.1,1205.8 538.2,1207.9 540.2,1209.9 542.6,1211.5 545.4,1212.8 548.1,1214.1 550.7,1215.5 553.5,1216.8 556.7,1217.9 560.2,1219 563.2,1219.9 565.9,1220.8 567.7,1221.4"/>
<polyline class="cg" points="576.1,1223 579.3,1223.7 582.1,1224.3 585,1224.9 587.9,1225.6"/>
<polyline class="cy" points="236,1173.8 236.4,1170.3 236.8,1167 237.3,1164.3 238.1,1161.2 238.9,1158.1 239.7,1155.1 240.7,1152.1 241.7,1149 242.8,1146 244.2,1143 245.7,1139.9 247.3,1136.9 248.9,1134 250.7,1131.2 252.5,1128.4 254.4,1125.7 256.7,1123.2 259,1120.6 261.3,1118.2 263.8,1116.1 266.3,1114 268.8,1112 271.5,1110.3 274.3,1108.8 277.1,1107.3 280,1106 283.1,1104.9 286.2,1103.9 289.1,1103 291.9,1102.5 295.2,1102.1 298.3,1102.6 301.7,1103.5 305.3,1104.4 308.3,1104.9 311.3,1105.4 314.4,1105.9 317.5,1106.1 320.6,1106.2 323.6,1106.3 326.7,1107 329.3,1108.1 332,1109.3 334.6,1110.9 337.3,1112.7 340,1114.6 342.8,1116.7 345.5,1118.7 348.1,1120.7 350.8,1122.7 353.5,1124.7 356.3,1126.7 359,1128.9 361.7,1131.2 364.3,1133.6 367,1136.2 369,1138.2 371,1140.2 373.1,1142.3 375.1,1144.3 377.1,1146.4 379.2,1148.3 381.9,1150.7 384.5,1153 387.2,1155.4 390,1157.7 392.7,1160.1 395.4,1162.5 398,1164.8 400.7,1167 403.5,1169 406.2,1170.8 408.9,1172.2 411.5,1173.5 414.2,1174.8 416.9,1176.1 419.4,1177.7 421.4,1179.6 423.5,1181.7 425.9,1183.7 428.7,1185.8 431.4,1187.7 434.1,1189.4 436.8,1191.1 439.5,1192.8 442.2,1194.4 444.9,1196.1 447.6,1197.8 450.3,1199.5 453,1201.4 455.8,1203.5 458.2,1205.5 460.3,1207.6 462.3,1209.6 464.3,1211.6 466.3,1213.6 468.3,1215.6 470.3,1217.6 472.4,1219.7 474.4,1222 476.5,1224.4 478.5,1226.6 481,1228.7 483.5,1230.7 486.1,1232.3 488.5,1234.2 490.1,1236.7 491.7,1239.2 493.4,1241.8 495.1,1244.2 497.4,1246.5 500.1,1247.7 502.9,1248.3 506,1249.1 509.2,1250 510,1250.2"/>
<circle cx="510.3" cy="1263.2" r="5" fill="url(#sy)"/>
<circle cx="516.4" cy="1264.3" r="5" fill="url(#sy)"/>
<circle cx="528.5" cy="1269.1" r="5" fill="url(#sy)"/>
<circle cx="535.3" cy="1271.6" r="5" fill="url(#sy)"/>
<circle cx="542.6" cy="1275" r="5" fill="url(#sy)"/>
</svg></body></html>
